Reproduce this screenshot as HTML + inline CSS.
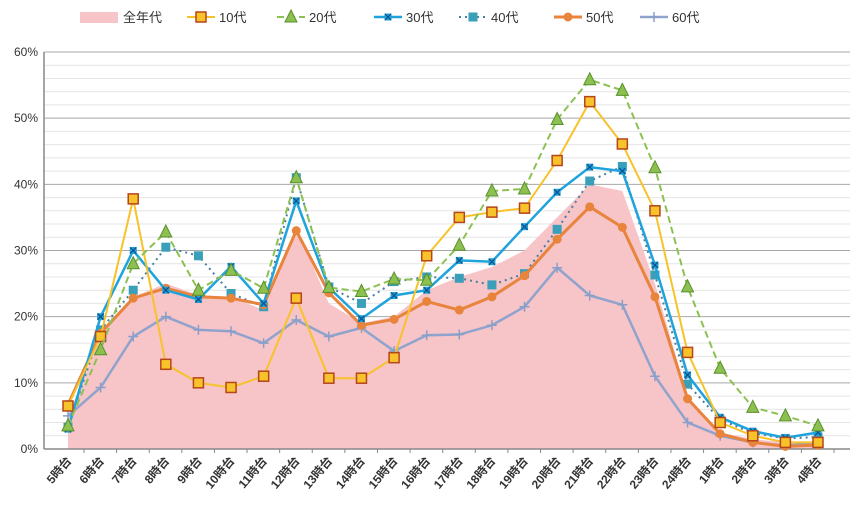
<!DOCTYPE html>
<html><head><meta charset="utf-8">
<style>
body{margin:0;background:#fff;font-family:"Liberation Sans","Noto Sans CJK JP",sans-serif;}
svg{display:block}
</style></head>
<body>
<svg id="chart" width="868" height="512" xmlns="http://www.w3.org/2000/svg"></svg>
<script>
const categories=["5時台","6時台","7時台","8時台","9時台","10時台","11時台","12時台","13時台","14時台","15時台","16時台","17時台","18時台","19時台","20時台","21時台","22時台","23時台","24時台","1時台","2時台","3時台","4時台"];
const allAges=[5,17,23,25,23.3,23,21,33.5,22,19,20,24,26,27.5,30,35,40,39,25,8,2.5,1.5,1,1];
const teens=[6.5,17,37.8,12.8,10,9.3,11,22.8,10.7,10.7,13.8,29.2,35,35.8,36.4,43.6,52.5,46.1,36,14.6,4,2,1,1];
const twenties=[3.5,15,28,32.8,24,27,24.3,41,24.4,23.8,25.7,25.5,30.8,39,39.3,49.8,55.8,54.2,42.5,24.5,12.2,6.3,5,3.5];
const thirties=[3,20,30,24,22.6,27.6,22,37.5,24.4,19.7,23.2,24,28.5,28.3,33.6,38.8,42.6,42,27.8,11.2,4.8,2.7,1.7,2.5];
const forties=[3.3,18,24,30.5,29.2,23.5,21.5,41,24.5,22,25.3,26,25.8,24.8,26.5,33.2,40.5,42.7,26.3,9.8,4.4,2.4,1.6,1.8];
const fifties=[6.7,17.5,22.8,24.3,23,22.8,21.8,33,23.6,18.7,19.6,22.3,21,23,26.2,31.7,36.6,33.5,23,7.6,2.3,1,0.4,0.6];
const sixties=[5,9.3,17,20,18,17.8,16,19.5,17,18.3,14.8,17.2,17.3,18.7,21.5,27.4,23.2,21.8,11,4,2,1,0.5,1];
const yTicks=[0,10,20,30,40,50,60];
const yTickLabels=["0%","10%","20%","30%","40%","50%","60%"];

const NS="http://www.w3.org/2000/svg";
const svg=document.getElementById('chart');
const X0=68,X1=818,Y0=449,Y1=52;
function xs(i){return X0+(X1-X0)*i/(categories.length-1);}
function ys(v){return Y0-(Y0-Y1)*v/60;}
function mk(tag,attrs,parent){const e=document.createElementNS(NS,tag);for(const k in attrs)e.setAttribute(k,attrs[k]);(parent||svg).appendChild(e);return e;}

// minor grid
for(let v=2;v<60;v+=2){if(v%10===0)continue;
 const g=mk('line',{x1:44,x2:850,y1:ys(v),y2:ys(v),stroke:'#e4e4e4','stroke-width':1});
 
 }
yTicks.forEach((v,i)=>{
 if(v>0){const g=mk('line',{x1:44,x2:850,y1:ys(v),y2:ys(v),stroke:'#a8a8a8','stroke-width':1});
 
 }
 const t=mk('text',{x:38,y:ys(v)+4,'text-anchor':'end','font-size':12,fill:'#333'});
 t.textContent=yTickLabels[i];
 
 
});
// area
let d='M'+xs(0)+','+ys(0);
allAges.forEach((v,i)=>{d+=' L'+xs(i)+','+ys(v);});
d+=' L'+xs(allAges.length-1)+','+ys(0)+' Z';
const area=mk('path',{d:d,fill:'#f7c4c8'});


// axes
const ax=mk('line',{x1:44,x2:850,y1:Y0,y2:Y0,stroke:'#888','stroke-width':1.5});


const ay=mk('line',{x1:44,x2:44,y1:Y1,y2:Y0,stroke:'#888','stroke-width':1.5});


categories.forEach((c,i)=>{
 const tk=mk('line',{x1:xs(i)+16,x2:xs(i)+16,y1:Y0,y2:Y0+4,stroke:'#888'});
 
 
 const t=mk('text',{x:xs(i)+4,y:Y0+12,'text-anchor':'end','font-size':12,'font-weight':'bold',fill:'#333',transform:`rotate(-50 ${xs(i)+4} ${Y0+12})`});
 t.textContent=c;
 
 
});
function marker(type,x,y,col,g){
 if(type==='sq')return mk('rect',{x:x-5,y:y-5,width:10,height:10,fill:'#f7c22a',stroke:'#b5451b','stroke-width':1.5},g);
 if(type==='tri')return mk('polygon',{points:`${x},${y-7} ${x-6},${y+5} ${x+6},${y+5}`,fill:'#8cc152',stroke:'#5a8f2c','stroke-width':1},g);
 if(type==='x'){mk('rect',{x:x-3.5,y:y-3.5,width:7,height:7,fill:'#1f9fd6'},g);return mk('path',{d:`M${x-3},${y-3}L${x+3},${y+3}M${x+3},${y-3}L${x-3},${y+3}`,stroke:'#0d4f8a','stroke-width':1.2},g);}
 if(type==='sq2')return mk('rect',{x:x-4.5,y:y-4.5,width:9,height:9,fill:'#3a9fb8'},g);
 if(type==='circ')return mk('circle',{cx:x,cy:y,r:4.5,fill:'#e8843c'},g);
 if(type==='plus')return mk('path',{d:`M${x-5},${y}L${x+5},${y}M${x},${y-5}L${x},${y+5}`,stroke:'#8a9fc8','stroke-width':1.5},g);
}
const series=[
 {name:'40代',data:forties,col:'#4b7e9e',w:2,dash:'2,4',m:'sq2',id:'series-40s'},
 {name:'60代',data:sixties,col:'#8fa3cc',w:2.5,dash:'',m:'plus',id:'series-60s'},
 {name:'50代',data:fifties,col:'#e8843c',w:3,dash:'',m:'circ',id:'series-50s'},
 {name:'30代',data:thirties,col:'#1fa3dc',w:2.5,dash:'',m:'x',id:'series-30s'},
 {name:'10代',data:teens,col:'#f7c22a',w:2,dash:'',m:'sq',id:'series-10s'},
 {name:'20代',data:twenties,col:'#8cc152',w:2,dash:'7,4',m:'tri',id:'series-20s'}
];
series.forEach(s=>{
 const g=mk('g',{});
 
 
 const pts=s.data.map((v,i)=>xs(i)+','+ys(v)).join(' ');
 mk('polyline',{points:pts,fill:'none',stroke:s.col,'stroke-width':s.w,'stroke-dasharray':s.dash},g);
 s.data.forEach((v,i)=>{const m=marker(s.m,xs(i),ys(v),s.col,g);
  
  });
});
// legend
const lg=mk('g',{});


const la=mk('rect',{x:80,y:12,width:38,height:11,fill:'#f7c4c8'},lg);


const lt=mk('text',{x:123,y:22,'font-size':13,fill:'#333'},lg);lt.textContent='全年代';


const legendPos={'10代':187,'20代':277,'30代':374,'40代':459,'50代':554,'60代':640};
['10代','20代','30代','40代','50代','60代'].forEach(n=>{
 const s=series.find(q=>q.name===n);const x=legendPos[n];
 mk('line',{x1:x,x2:x+28,y1:17,y2:17,stroke:s.col,'stroke-width':s.w,'stroke-dasharray':s.dash},lg);
 const m=marker(s.m,x+14,17,s.col,lg);
 
 
 const t=mk('text',{x:x+32,y:22,'font-size':13,fill:'#333'},lg);t.textContent=n;
 
 
});
</script>
</body></html>
